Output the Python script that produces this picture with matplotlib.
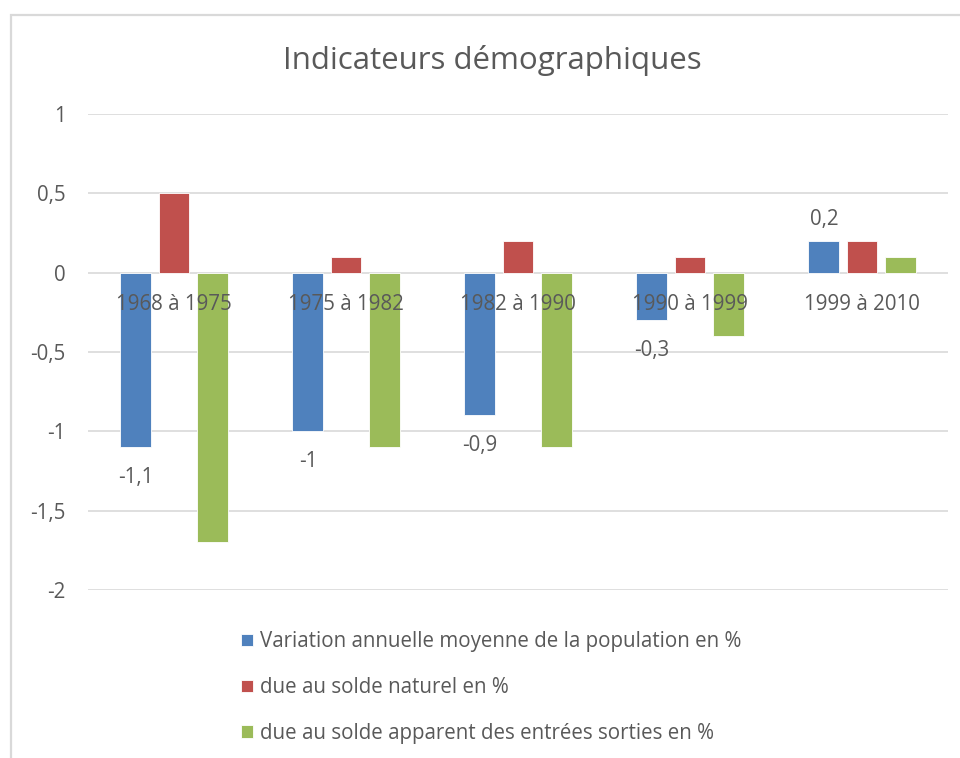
import numpy as np
import matplotlib
matplotlib.use("Agg")
import matplotlib.pyplot as plt
from matplotlib.patches import Rectangle

periods = ["1968 à 1975", "1975 à 1982", "1982 à 1990", "1990 à 1999", "1999 à 2010"]
variation = [-1.1, -1.0, -0.9, -0.3, 0.2]
solde_naturel = [0.5, 0.1, 0.2, 0.1, 0.2]
solde_apparent = [-1.7, -1.1, -1.1, -0.4, 0.1]
series_names = [
    "Variation annuelle moyenne de la population en %",
    "due au solde naturel en %",
    "due au solde apparent des entrées sorties en %",
]
colors = ["#4F81BD", "#C0504D", "#9BBB59"]
yticks = [-2, -1.5, -1, -0.5, 0, 0.5, 1]

text_col = "#595959"
grid_col = "#D9D9D9"
plt.rcParams["font.family"] = ["Open Sans", "DejaVu Sans"]
fs = 14.8


def fr(v):
    s = f"{v:g}"
    return s.replace(".", ",")


fig = plt.figure(figsize=(9.6, 7.58), dpi=100)

# chart border (runs off right / bottom edge like the screenshot)
fig.patches.append(Rectangle((11 / 960, -0.1), 1.2, 1 - 15 / 758 + 0.1, transform=fig.transFigure,
                             fill=False, edgecolor=grid_col, linewidth=1.6))

ax = fig.add_axes([88 / 960, 1 - 590 / 758, 860 / 960, 476 / 758])
x = np.arange(len(periods))
width = 0.18
step = 0.222
all_series = [variation, solde_naturel, solde_apparent]
bars = []
for i, (vals, col, name) in enumerate(zip(all_series, colors, series_names)):
    b = ax.bar(x + (i - 1) * step, vals, width, color=col, label=name, zorder=2,
               edgecolor="white", linewidth=0.6)
    bars.append(b)

# data labels only on the first series
for rect, v in zip(bars[0], variation):
    cx = rect.get_x() + rect.get_width() / 2
    if v < 0:
        ax.annotate(fr(v), (cx, v), xytext=(0, -14), textcoords="offset points",
                    ha="center", va="top", fontsize=fs, color=text_col)
    else:
        ax.annotate(fr(v), (cx, v), xytext=(0, 8), textcoords="offset points",
                    ha="center", va="bottom", fontsize=fs, color=text_col)

# category labels sit just under the zero line, drawn over the bars
for xi, p in zip(x, periods):
    ax.annotate(p, (xi, 0), xytext=(0, -15.5), textcoords="offset points", ha="center", va="top",
                fontsize=fs, color=text_col, zorder=5, annotation_clip=False)

ax.set_xlim(-0.5, len(periods) - 0.5)
ax.set_ylim(-2, 1)
ax.set_yticks(yticks)
ax.set_yticklabels([fr(t) for t in yticks], fontsize=fs, color=text_col)
ax.set_xticks([])
ax.tick_params(axis="y", length=0, pad=16)
ax.grid(axis="y", color=grid_col, linewidth=1.2, zorder=0)
ax.set_axisbelow(True)
for s in ax.spines.values():
    s.set_visible(False)

fig.text(492 / 960, 1 - 61 / 758, "Indicateurs démographiques", ha="center", va="center",
         fontsize=22.5, color=text_col)

leg = fig.legend(handles=bars, labels=series_names, loc="upper left",
                 bbox_to_anchor=(225 / 960, 1 - 615 / 758), ncol=1, frameon=False,
                 fontsize=fs, labelcolor=text_col, handlelength=0.55, handleheight=0.55,
                 handletextpad=0.35, labelspacing=1.2, borderpad=0.3)

fig.savefig("out.png", dpi=100)
